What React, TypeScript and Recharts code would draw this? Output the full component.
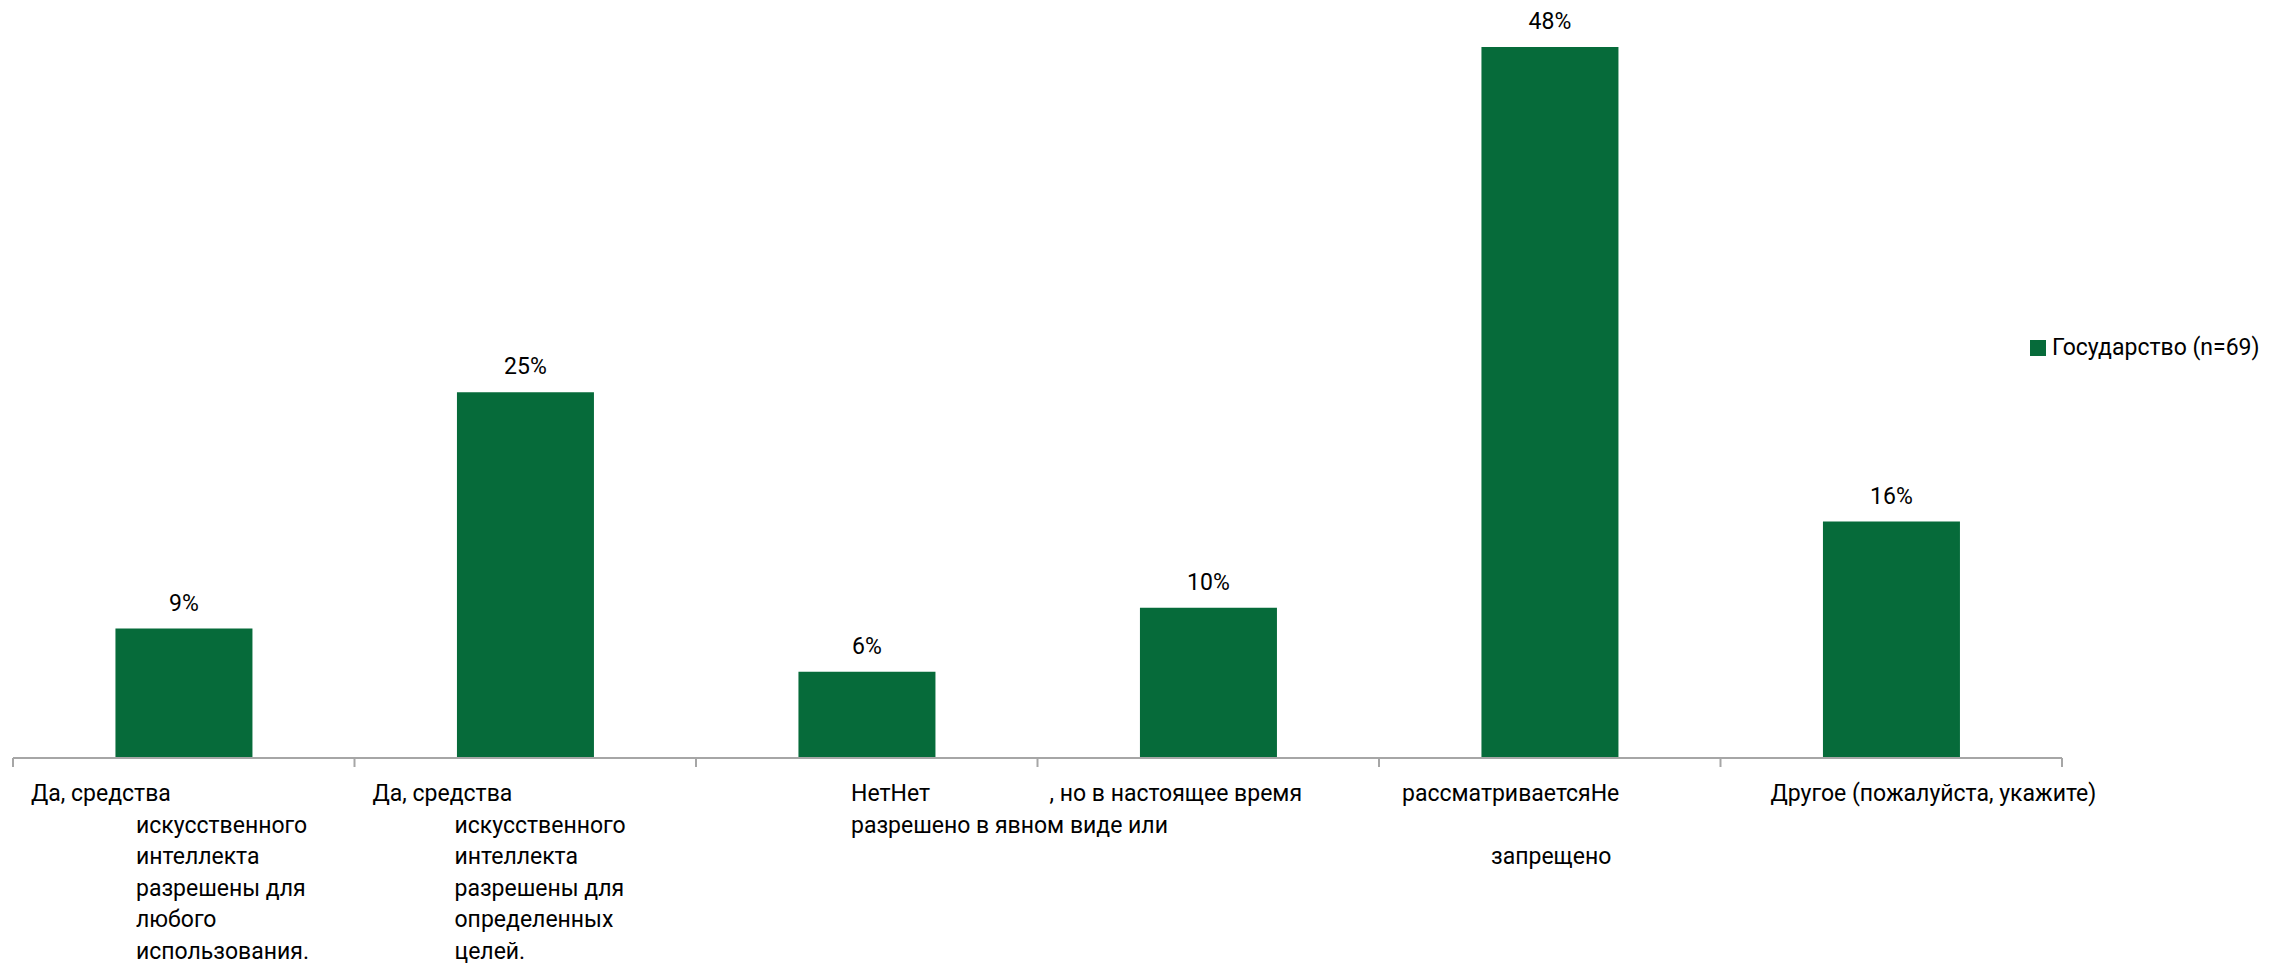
import { BarChart, Bar, XAxis, YAxis, LabelList } from 'recharts'

const categories = [
  'Да, средства искусственного интеллекта разрешены для любого использования.',
  'Да, средства искусственного интеллекта разрешены для определенных целей.',
  'Нет',
  'Нет, но в настоящее время рассматривается',
  'Не разрешено в явном виде или запрещено',
  'Другое (пожалуйста, укажите)',
]
const shares = [0.087, 0.246, 0.058, 0.101, 0.478, 0.159]
const seriesName = 'Государство (n=69)'

// text pieces as they are printed under each category
const tickFragments = [
  ['Да, средства', 'искусственного', 'интеллекта', 'разрешены для', 'любого', 'использования.'],
  ['Да, средства', 'искусственного', 'интеллекта', 'разрешены для', 'определенных', 'целей.'],
  ['НетНет', 'разрешено в явном виде или'],
  [', но в настоящее время'],
  ['рассматриваетсяНе', 'запрещено'],
  ['Другое (пожалуйста, укажите)'],
]

// [dx from category left edge, line number] for each piece above
const FRAG_POS = [
  [[18, 0], [123, 1], [123, 2], [123, 3], [123, 4], [123, 5]],
  [[18, 0], [100, 1], [100, 2], [100, 3], [100, 4], [100, 5]],
  [[155, 0], [155, 1]],
  [[12, 0]],
  [[23, 0], [112, 2]],
  [[50, 0]],
]

const W = 2293
const H = 967
const MARGIN = { top: 14.4, right: 231, left: 13, bottom: 0 }
const AXIS_Y = 758
const BAND = (W - MARGIN.left - MARGIN.right) / categories.length
const LINE_H = 31.6
const GREEN = '#066b3a'
const AXIS_GREY = '#a6a6a6'
const FONT = 'Roboto, "Noto Sans", sans-serif'

const data = categories.map((name, i) => ({ name, value: shares[i] }))

function CategoryTick(props: any) {
  const { x, y, index } = props
  const left = x - BAND / 2
  const frags = tickFragments[index] || []
  const pos = FRAG_POS[index] || []
  return (
    <g>
      <line x1={left} x2={left} y1={y} y2={y + 9} stroke={AXIS_GREY} strokeWidth={2} />
      {index === categories.length - 1 && (
        <line x1={left + BAND} x2={left + BAND} y1={y} y2={y + 9} stroke={AXIS_GREY} strokeWidth={2} />
      )}
      {frags.map((t, i) => (
        <text
          key={i}
          x={left + pos[i][0]}
          y={y + 43 + pos[i][1] * LINE_H}
          fontSize={23}
          fontFamily={FONT}
          fill="#000"
        >
          {t}
        </text>
      ))}
    </g>
  )
}

export default function App() {
  return (
    <div style={{ position: 'absolute', left: 0, top: 0, width: W, height: H, background: '#fff' }}>
      <BarChart
        width={W}
        height={H}
        data={data}
        margin={MARGIN}
        barCategoryGap="30%"
        style={{ fontFamily: FONT }}
      >
        <XAxis
          dataKey="name"
          interval={0}
          height={H - AXIS_Y}
          tickSize={0}
          tickMargin={0}
          tickLine={false}
          axisLine={{ stroke: AXIS_GREY, strokeWidth: 2 }}
          tick={<CategoryTick />}
        />
        <YAxis hide width={0} domain={[0, 0.5]} />
        <Bar dataKey="value" name={seriesName} fill={GREEN} isAnimationActive={false}>
          <LabelList
            dataKey="value"
            position="top"
            offset={18}
            fill="#000"
            fontSize={23}
            fontFamily={FONT}
            formatter={(v: any) => `${Math.round(Number(v) * 100)}%`}
          />
        </Bar>
      </BarChart>

      {/* legend */}
      <div
        style={{
          position: 'absolute',
          left: 2030,
          top: 335.6,
          display: 'flex',
          alignItems: 'flex-start',
          fontFamily: FONT,
          fontSize: 23,
          lineHeight: '23px',
          color: '#000',
          whiteSpace: 'nowrap',
        }}
      >
        <span style={{ width: 16, height: 16, background: GREEN, marginTop: 4.4, marginRight: 6 }} />
        <span>{seriesName}</span>
      </div>
    </div>
  )
}
